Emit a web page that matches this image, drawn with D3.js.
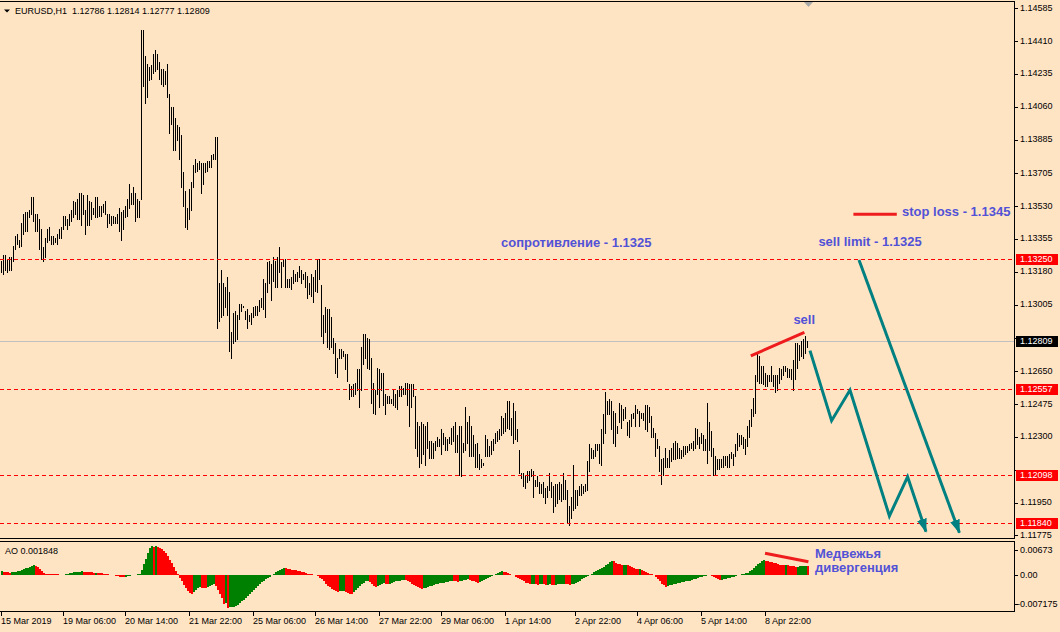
<!DOCTYPE html>
<html><head><meta charset="utf-8">
<script src="https://cdn.jsdelivr.net/npm/d3@7/dist/d3.min.js"></script>
<style>
html,body{margin:0;padding:0;background:#FFE4C4;}
svg{display:block;}
text{font-family:"Liberation Sans",Arial,sans-serif;}
</style></head><body>
<svg id="c" width="1060" height="632"></svg>
<script>
// ---------- data ----------
const highs = [
1.1324,1.1327,1.1327,1.1325,1.1326,1.1326,1.1332,1.1337,1.1338,1.1335,
1.1344,1.1349,1.1350,1.1350,1.1351,1.1358,1.1358,1.1349,1.1349,1.1346,
1.1341,1.1331,1.1336,1.1341,1.1342,1.1337,1.1337,1.1336,1.1338,1.1341,
1.1342,1.1348,1.1348,1.1346,1.1349,1.1351,1.1356,1.1355,1.1357,1.1360,
1.1360,1.1359,1.1351,1.1359,1.1356,1.1355,1.1352,1.1358,1.1358,1.1353,
1.1353,1.1354,1.1356,1.1349,1.1349,1.1348,1.1348,1.1347,1.1349,1.1352,
1.1350,1.1351,1.1353,1.1357,1.1365,1.1360,1.1363,1.1360,1.1357,1.1356,
1.1447,1.1447,1.1433,1.1429,1.1427,1.1428,1.1434,1.1436,1.1434,1.1430,
1.1426,1.1426,1.1425,1.1429,1.1413,1.1406,1.1406,1.1400,1.1396,1.1395,
1.1391,1.1371,1.1361,1.1352,1.1362,1.1366,1.1375,1.1378,1.1376,1.1377,
1.1376,1.1376,1.1376,1.1377,1.1377,1.1380,1.1381,1.1390,1.1390,1.1312,
1.1319,1.1312,1.1310,1.1315,1.1307,1.1286,1.1296,1.1297,1.1295,1.1301,
1.1301,1.1300,1.1297,1.1298,1.1295,1.1296,1.1299,1.1300,1.1300,1.1303,
1.1304,1.1314,1.1312,1.1323,1.1324,1.1322,1.1326,1.1324,1.1326,1.1331,
1.1323,1.1325,1.1325,1.1314,1.1314,1.1315,1.1319,1.1317,1.1318,1.1321,
1.1319,1.1317,1.1318,1.1316,1.1312,1.1317,1.1315,1.1319,1.1325,1.1325,
1.1311,1.1295,1.1299,1.1298,1.1298,1.1294,1.1283,1.1280,1.1272,1.1277,
1.1277,1.1276,1.1274,1.1274,1.1258,1.1257,1.1258,1.1259,1.1266,1.1266,
1.1278,1.1285,1.1285,1.1283,1.1282,1.1272,1.1259,1.1255,1.1267,1.1266,
1.1264,1.1264,1.1253,1.1252,1.1252,1.1250,1.1255,1.1253,1.1255,1.1257,
1.1257,1.1256,1.1259,1.1259,1.1258,1.1258,1.1258,1.1252,1.1238,1.1236,
1.1238,1.1237,1.1236,1.1238,1.1228,1.1228,1.1227,1.1228,1.1230,1.1229,
1.1234,1.1232,1.1230,1.1229,1.1230,1.1235,1.1236,1.1238,1.1231,1.1236,
1.1236,1.1227,1.1246,1.1238,1.1241,1.1236,1.1231,1.1226,1.1227,1.1221,
1.1218,1.1216,1.1231,1.1229,1.1225,1.1228,1.1229,1.1232,1.1233,1.1234,
1.1241,1.1240,1.1243,1.1249,1.1249,1.1240,1.1248,1.1244,1.1234,1.1223,
1.1211,1.1211,1.1210,1.1212,1.1212,1.1213,1.1212,1.1207,1.1209,1.1206,
1.1205,1.1206,1.1203,1.1204,1.1211,1.1206,1.1204,1.1205,1.1205,1.1206,
1.1205,1.1211,1.1207,1.1202,1.1193,1.1198,1.1215,1.1202,1.1202,1.1204,
1.1205,1.1204,1.1205,1.1217,1.1226,1.1224,1.1223,1.1226,1.1226,1.1226,
1.1234,1.1242,1.1254,1.1249,1.1250,1.1249,1.1244,1.1243,1.1236,1.1248,
1.1247,1.1245,1.1246,1.1238,1.1239,1.1242,1.1243,1.1247,1.1245,1.1244,
1.1243,1.1243,1.1247,1.1247,1.1246,1.1241,1.1235,1.1232,1.1229,1.1225,
1.1218,1.1219,1.1224,1.1219,1.1223,1.1224,1.1227,1.1228,1.1227,1.1224,
1.1223,1.1225,1.1225,1.1225,1.1226,1.1227,1.1228,1.1235,1.1234,1.1230,
1.1232,1.1231,1.1229,1.1248,1.1238,1.1233,1.1224,1.1220,1.1218,1.1218,
1.1218,1.1220,1.1220,1.1220,1.1221,1.1222,1.1221,1.1226,1.1232,1.1231,
1.1231,1.1230,1.1229,1.1236,1.1239,1.1245,1.1251,1.1263,1.1274,1.1273,
1.1268,1.1268,1.1264,1.1263,1.1263,1.1268,1.1263,1.1263,1.1263,1.1267,
1.1266,1.1268,1.1268,1.1267,1.1266,1.1266,1.1271,1.1280,1.1280,1.1279,
1.1281,1.1282,1.1284,1.12814];
const lows = [
1.1318,1.1317,1.1319,1.1318,1.1319,1.1319,1.1324,1.1330,1.1333,1.1331,
1.1332,1.1338,1.1340,1.1340,1.1347,1.1349,1.1345,1.1340,1.1340,1.1330,
1.1325,1.1324,1.1326,1.1334,1.1335,1.1333,1.1333,1.1334,1.1333,1.1336,
1.1336,1.1341,1.1343,1.1341,1.1343,1.1345,1.1347,1.1349,1.1346,1.1346,
1.1343,1.1349,1.1338,1.1343,1.1343,1.1346,1.1349,1.1347,1.1347,1.1348,
1.1348,1.1350,1.1349,1.1342,1.1344,1.1343,1.1344,1.1344,1.1344,1.1340,
1.1335,1.1341,1.1347,1.1348,1.1352,1.1354,1.1354,1.1345,1.1347,1.1347,
1.1357,1.1417,1.1408,1.1411,1.1420,1.1421,1.1424,1.1425,1.1426,1.1421,
1.1418,1.1417,1.1418,1.1411,1.1392,1.1397,1.1383,1.1383,1.1388,1.1378,
1.1363,1.1353,1.1342,1.1341,1.1346,1.1351,1.1363,1.1371,1.1372,1.1373,
1.1360,1.1365,1.1371,1.1372,1.1374,1.1374,1.1378,1.1378,1.1288,1.1292,
1.1294,1.1295,1.1299,1.1295,1.1276,1.1272,1.1280,1.1281,1.1282,1.1293,
1.1297,1.1299,1.1293,1.1288,1.1292,1.1290,1.1294,1.1295,1.1295,1.1297,
1.1299,1.1298,1.1294,1.1307,1.1312,1.1303,1.1313,1.1310,1.1310,1.1318,
1.1310,1.1321,1.1310,1.1310,1.1310,1.1309,1.1312,1.1313,1.1313,1.1315,
1.1312,1.1314,1.1310,1.1304,1.1306,1.1305,1.1302,1.1308,1.1307,1.1314,
1.1284,1.1280,1.1286,1.1278,1.1277,1.1278,1.1275,1.1264,1.1262,1.1272,
1.1272,1.1273,1.1266,1.1260,1.1250,1.1252,1.1252,1.1253,1.1255,1.1246,
1.1255,1.1269,1.1272,1.1267,1.1266,1.1248,1.1243,1.1242,1.1253,1.1246,
1.1255,1.1247,1.1242,1.1248,1.1248,1.1248,1.1247,1.1246,1.1245,1.1252,
1.1252,1.1253,1.1253,1.1247,1.1236,1.1246,1.1252,1.1224,1.1220,1.1214,
1.1216,1.1221,1.1215,1.1224,1.1219,1.1219,1.1219,1.1223,1.1225,1.1225,
1.1221,1.1226,1.1223,1.1223,1.1227,1.1226,1.1228,1.1222,1.1222,1.1210,
1.1209,1.1222,1.1223,1.1227,1.1220,1.1220,1.1220,1.1214,1.1214,1.1213,
1.1214,1.1215,1.1220,1.1220,1.1220,1.1221,1.1223,1.1227,1.1228,1.1229,
1.1231,1.1232,1.1233,1.1235,1.1234,1.1231,1.1227,1.1229,1.1228,1.1211,
1.1208,1.1204,1.1203,1.1206,1.1207,1.1209,1.1198,1.1204,1.1204,1.1200,
1.1200,1.1198,1.1195,1.1198,1.1202,1.1198,1.1190,1.1193,1.1195,1.1197,
1.1196,1.1197,1.1197,1.1184,1.1183,1.1187,1.1191,1.1192,1.1194,1.1199,
1.1199,1.1200,1.1201,1.1202,1.1212,1.1219,1.1219,1.1220,1.1223,1.1216,
1.1215,1.1227,1.1232,1.1242,1.1242,1.1234,1.1227,1.1225,1.1232,1.1238,
1.1235,1.1239,1.1240,1.1231,1.1230,1.1236,1.1240,1.1236,1.1243,1.1236,
1.1240,1.1239,1.1234,1.1233,1.1238,1.1230,1.1230,1.1220,1.1224,1.1212,
1.1205,1.1210,1.1214,1.1214,1.1214,1.1217,1.1218,1.1218,1.1219,1.1219,
1.1219,1.1220,1.1221,1.1222,1.1223,1.1224,1.1223,1.1224,1.1226,1.1224,
1.1227,1.1223,1.1223,1.1216,1.1223,1.1220,1.1210,1.1210,1.1213,1.1213,
1.1214,1.1214,1.1215,1.1214,1.1214,1.1219,1.1215,1.1220,1.1223,1.1225,
1.1226,1.1224,1.1221,1.1225,1.1230,1.1236,1.1241,1.1243,1.1260,1.1259,
1.1259,1.1258,1.1257,1.1257,1.1260,1.1260,1.1257,1.1254,1.1255,1.1259,
1.1261,1.1263,1.1265,1.1262,1.1262,1.1261,1.1255,1.1261,1.1267,1.1271,
1.1273,1.1272,1.1275,1.12777];
const aoValues = [
0.00081,0.0007,0.00063,0.00059,0.00058,0.00061,0.00067,0.00074,0.00085,0.00096,
0.00111,0.00126,0.00141,0.00155,0.0017,0.00185,0.002,0.00189,0.00163,0.00126,
0.00089,0.00052,0.0003,0.00026,0.00024,0.00022,0.00021,0.0002,0.00019,0.00018,
0.00017,0.00016,0.00022,0.00033,0.00044,0.00052,0.00059,0.00067,0.0007,0.00074,
0.0008,0.00074,0.0007,0.00067,0.00063,0.00059,0.00056,0.00058,0.00052,0.00046,
0.00041,0.00036,0.0003,0.00022,0.00015,0.00007,0,-0.00008,-0.00016,-0.00025,
-0.00033,-0.00037,-0.00029,-0.00016,-0.00004,0.00015,0.00011,0.00007,0.00022,0.00033,
0.00111,0.00222,0.00333,0.00444,0.00562,0.00585,0.00574,0.00588,0.00581,0.00562,
0.00533,0.00496,0.00444,0.00385,0.00318,0.00244,0.0017,0.00096,0.00022,-0.00049,
-0.00123,-0.00197,-0.00262,-0.0032,-0.00361,-0.00377,-0.00328,-0.00287,-0.00254,-0.00242,
-0.00246,-0.0025,-0.00254,-0.0023,-0.00205,-0.00185,-0.00174,-0.00213,-0.00295,-0.00377,
-0.00459,-0.00574,-0.00566,-0.00648,-0.00644,-0.0064,-0.00631,-0.00615,-0.0059,-0.00558,
-0.00525,-0.00492,-0.00459,-0.00418,-0.00377,-0.00336,-0.00295,-0.00254,-0.00213,-0.00172,
-0.00139,-0.00107,-0.00078,-0.00049,-0.00025,0,0.0003,0.00059,0.00089,0.00111,
0.00133,0.00148,0.00141,0.00133,0.00126,0.00118,0.00111,0.00104,0.00093,0.00081,
0.0007,0.00059,0.00048,0.00037,0.0003,0.00022,0.00015,0.00007,-0.00016,-0.00049,
-0.00082,-0.00123,-0.00164,-0.00205,-0.00238,-0.00271,-0.00295,-0.00316,-0.00328,-0.00324,
-0.00316,-0.00308,-0.00328,-0.00353,-0.00369,-0.00377,-0.00344,-0.00303,-0.00262,-0.00221,
-0.0018,-0.00148,-0.00123,-0.00107,-0.00139,-0.00172,-0.00205,-0.00226,-0.00205,-0.00185,
-0.00172,-0.00161,-0.00168,-0.00176,-0.00164,-0.00148,-0.00135,-0.00123,-0.00115,-0.00107,
-0.001,-0.00094,-0.00097,-0.00115,-0.00139,-0.00164,-0.00189,-0.00213,-0.00238,-0.00258,
-0.00275,-0.00262,-0.00246,-0.0023,-0.00217,-0.00205,-0.00193,-0.00182,-0.00172,-0.00162,
-0.00153,-0.00144,-0.00135,-0.00127,-0.00119,-0.00111,-0.00115,-0.00123,-0.00127,-0.00119,
-0.00107,-0.00097,-0.00086,-0.00078,-0.0009,-0.00107,-0.00123,-0.00135,-0.00144,-0.00131,
-0.00115,-0.00094,-0.00074,-0.00053,-0.00033,-0.00012,0.00007,0.00026,0.00044,0.00063,
0.00081,0.0007,0.00059,0.00048,0.00033,0.00015,0,-0.00025,-0.00049,-0.00074,
-0.00098,-0.00123,-0.00144,-0.0016,-0.00172,-0.00168,-0.00164,-0.00176,-0.00185,-0.00179,
-0.00174,-0.00182,-0.0019,-0.00185,-0.0018,-0.00187,-0.00193,-0.00187,-0.00182,-0.00177,
-0.00172,-0.00168,-0.00172,-0.00179,-0.00185,-0.00176,-0.00164,-0.00148,-0.00131,-0.00107,
-0.00082,-0.00057,-0.00033,-0.00008,0.00015,0.00037,0.00059,0.00081,0.00104,0.00126,
0.00148,0.00178,0.00207,0.00237,0.00266,0.00296,0.00281,0.00259,0.00237,0.00222,
0.00211,0.00215,0.00218,0.002,0.00181,0.00163,0.00148,0.00137,0.00127,0.00132,
0.00111,0.00093,0.00074,0.00056,0.00037,0.00019,0,-0.00041,-0.00082,-0.00123,
-0.00164,-0.00201,-0.00228,-0.00215,-0.00203,-0.00193,-0.00182,-0.00172,-0.00162,-0.00153,
-0.00143,-0.00133,-0.00123,-0.00113,-0.00103,-0.0009,-0.00078,-0.00066,-0.00053,-0.00041,
-0.00029,-0.00016,-0.00004,0.00007,0.00004,-0.00016,-0.00037,-0.00057,-0.00078,-0.00093,
-0.00086,-0.00078,-0.0007,-0.00059,-0.00049,-0.00037,-0.00025,-0.00012,0,0.00011,
0.00022,0.00033,0.00044,0.00053,0.00081,0.00111,0.00148,0.00185,0.00222,0.00259,
0.00289,0.00309,0.00296,0.00285,0.00274,0.00263,0.00252,0.00241,0.00229,0.00218,
0.00211,0.00201,0.00207,0.002,0.00192,0.00185,0.0018,0.00175,0.00178,0.0018,
0.00182,0.00184,0.00186,0.001848];

const priceTicks = [1.14585,1.14410,1.14235,1.14060,1.13885,1.13705,1.13530,1.13355,1.13180,1.13005,1.12830,1.12650,1.12475,1.12300,1.12125,1.11950,1.11775];
const levelPrices = [1.13250,1.12557,1.12098,1.11840];
const currentPrice = 1.12809;
const timeLabels = ["15 Mar 2019","19 Mar 06:00","20 Mar 14:00","21 Mar 22:00","25 Mar 06:00","26 Mar 14:00","27 Mar 22:00","29 Mar 06:00","1 Apr 14:00","2 Apr 22:00","4 Apr 06:00","5 Apr 14:00","8 Apr 22:00"];
const timeTickBars = [0,31,62,94,126,157,189,220,252,287,318,350,382];
const aoTicks = [0.00673,0,-0.007175];
const aoTickLabels = ["0.00673","0.00","-0.007175"];
const headerText = "EURUSD,H1  1.12786 1.12814 1.12777 1.12809";
const aoHeader = "AO 0.001848";

// annotations (bar index, price / AO value)
const zigzag = [[404.5,1.12760],[415.3,1.12387],[424.5,1.12550],[444.2,1.11879],[453.3,1.12088],[462.5,1.11795]];
const longArrow = [[429,1.13243],[479.2,1.11790]];
const sellLine = [[374.9,1.12732],[401.7,1.12858]];
const stopLine = [[426.2,1.13487],[447.9,1.13487]];
const divLine = [[382,0.00445],[403.7,0.00276]];
const priceNotes = [
  {text:"сопротивление - 1.1325", bar:250, price:1.13311},
  {text:"sell limit - 1.1325", bar:408.7, price:1.13319},
  {text:"stop loss - 1.1345", bar:450.5, price:1.13478},
  {text:"sell", bar:396.2, price:1.12902}
];
const aoNotes = [
  {text:"Медвежья", bar:407, value:0.00355},
  {text:"дивергенция", bar:407, value:0.00060}
];

// ---------- drawing ----------
const svg = d3.select("#c");
const axisX = 1014.5;
const mainTop = 1.5, mainBottom = 538.5, aoTop = 541.5, aoBottom = 611.5;
const x = d3.scaleLinear().domain([0, 403]).range([1, 807]);
const y = d3.scaleLinear().domain([1.11840, 1.13250]).range([523.3, 258.7]);
const aoY = d3.scaleLinear().domain([-0.007175, 0.00673]).range([611, 542]);
const fmt = d3.format(".5f");
const noteColor = "#5252D6";
const teal = "#008080";
const lineRed = "#EE1C1C";

svg.append("rect").attr("width",1060).attr("height",632).attr("fill","#FFE4C4");

const defs = svg.append("defs");
defs.append("clipPath").attr("id","mainClip").append("rect").attr("x",0).attr("y",mainTop).attr("width",axisX).attr("height",mainBottom-mainTop);
defs.append("marker").attr("id","arr").attr("viewBox","0 0 14 10").attr("refX",13).attr("refY",5)
  .attr("markerWidth",14).attr("markerHeight",10).attr("markerUnits","userSpaceOnUse").attr("orient","auto")
  .append("path").attr("d","M0,0 L14,5 L0,10 z").attr("fill",teal);

const main = svg.append("g").attr("clip-path","url(#mainClip)");

// current price line (below bars)
main.append("line").attr("x1",0).attr("x2",axisX).attr("y1",Math.round(y(currentPrice))+0.5).attr("y2",Math.round(y(currentPrice))+0.5)
  .style("stroke","#C0C0C0").attr("stroke-width",1);

// price bars
main.append("g").selectAll("line").data(highs).join("line")
  .attr("x1",(d,i)=>Math.round(x(i))+0.5).attr("x2",(d,i)=>Math.round(x(i))+0.5)
  .attr("y1",d=>Math.round(y(d))).attr("y2",(d,i)=>Math.max(Math.round(y(lows[i]))+1, Math.round(y(d))+1))
  .style("stroke","#000").attr("stroke-width",1).attr("shape-rendering","crispEdges");

// level lines
main.append("g").selectAll("line").data(levelPrices).join("line")
  .attr("x1",0).attr("x2",axisX).attr("y1",d=>Math.round(y(d))+0.5).attr("y2",d=>Math.round(y(d))+0.5)
  .style("stroke","#FF0000").attr("stroke-width",1).style("stroke-dasharray","4,3").attr("shape-rendering","crispEdges");

// annotation lines
const lineGen = d3.line().x(d=>x(d[0])).y(d=>y(d[1]));
main.append("path").attr("d",lineGen(sellLine)).style("stroke",lineRed).attr("stroke-width",3).attr("fill","none");
main.append("path").attr("d",lineGen(stopLine)).style("stroke",lineRed).attr("stroke-width",3).attr("fill","none");
main.append("path").attr("d",lineGen(zigzag)).style("stroke",teal).attr("stroke-width",3).attr("fill","none")
  .attr("stroke-linejoin","miter").attr("marker-end","url(#arr)");
main.append("path").attr("d",lineGen(longArrow)).style("stroke",teal).attr("stroke-width",3).attr("fill","none")
  .attr("marker-end","url(#arr)");

main.append("g").selectAll("text").data(priceNotes).join("text")
  .attr("x",d=>x(d.bar)).attr("y",d=>y(d.price)).text(d=>d.text)
  .attr("fill",noteColor).attr("font-weight","bold").attr("font-size","13px");

// AO histogram
const aoG = svg.append("g");
aoG.selectAll("rect").data(aoValues).join("rect")
  .attr("x",(d,i)=>Math.round(x(i))).attr("width",2)
  .attr("y",d=>Math.min(aoY(d),aoY(0))).attr("height",d=>Math.abs(aoY(d)-aoY(0)))
  .attr("fill",(d,i)=> i===0 ? "#008000" : (d > aoValues[i-1] ? "#008000" : "#FF0000"))
  .attr("shape-rendering","crispEdges");

const aoLine = d3.line().x(d=>x(d[0])).y(d=>aoY(d[1]));
aoG.append("path").attr("d",aoLine(divLine)).style("stroke",lineRed).attr("stroke-width",3).attr("fill","none");
aoG.selectAll("text.n").data(aoNotes).join("text").attr("class","n")
  .attr("x",d=>x(d.bar)).attr("y",d=>aoY(d.value)).text(d=>d.text)
  .attr("fill",noteColor).attr("font-weight","bold").attr("font-size","13px");

// frames
const fr = svg.append("g").style("stroke","#000").attr("stroke-width",1).attr("shape-rendering","crispEdges");
fr.append("line").attr("x1",0).attr("x2",axisX).attr("y1",mainTop).attr("y2",mainTop);
fr.append("line").attr("x1",0).attr("x2",axisX).attr("y1",mainBottom).attr("y2",mainBottom);
fr.append("line").attr("x1",axisX).attr("x2",axisX).attr("y1",mainTop).attr("y2",mainBottom);
fr.append("line").attr("x1",0).attr("x2",axisX).attr("y1",aoTop).attr("y2",aoTop);
fr.append("line").attr("x1",0).attr("x2",axisX).attr("y1",aoBottom).attr("y2",aoBottom);
fr.append("line").attr("x1",axisX).attr("x2",axisX).attr("y1",aoTop).attr("y2",aoBottom);

// price axis (labels hidden behind a price box are left out, tick marks kept)
const boxPrices = levelPrices.concat([currentPrice]);
const freeTicks = priceTicks.filter(t => boxPrices.every(p => Math.abs(y(t)-y(p)) > 9));
const pa = svg.append("g");
pa.selectAll("line").data(priceTicks).join("line")
  .attr("x1",axisX).attr("x2",axisX+3).attr("y1",d=>Math.round(y(d))+0.5).attr("y2",d=>Math.round(y(d))+0.5)
  .style("stroke","#000").attr("shape-rendering","crispEdges");
pa.selectAll("text").data(freeTicks).join("text")
  .attr("x",1020).attr("y",d=>y(d)+2.5).text(d=>fmt(d)).attr("font-size","9px").attr("fill","#000");

// level price boxes
const boxes = svg.append("g");
const boxData = levelPrices.map(p=>({p, fill:"#FF0000"})).concat([{p:currentPrice, fill:"#000"}]);
boxes.selectAll("rect").data(boxData).join("rect")
  .attr("x",1016).attr("width",42).attr("y",d=>Math.round(y(d.p))-5).attr("height",11).attr("fill",d=>d.fill);
boxes.selectAll("text").data(boxData).join("text")
  .attr("x",1020).attr("y",d=>y(d.p)+3).text(d=>fmt(d.p)).attr("font-size","9px").attr("fill","#fff");

// AO axis
const aa = svg.append("g");
const aoLabelY = [aoY(aoTicks[0])+8, aoY(aoTicks[1]), aoY(aoTicks[2])-7];
aa.selectAll("line").data(aoTicks).join("line")
  .attr("x1",axisX).attr("x2",axisX+3).attr("y1",(d,i)=>Math.round(aoLabelY[i])+0.5).attr("y2",(d,i)=>Math.round(aoLabelY[i])+0.5)
  .style("stroke","#000").attr("shape-rendering","crispEdges");
aa.selectAll("text").data(aoTickLabels).join("text")
  .attr("x",(d,i)=> d.startsWith("-") ? 1017 : 1020).attr("y",(d,i)=>aoLabelY[i]+3).text(d=>d)
  .attr("font-size","9px").attr("fill","#000");

// time axis
const ta = svg.append("g");
ta.selectAll("line").data(timeTickBars).join("line")
  .attr("x1",d=>Math.round(x(d))+0.5).attr("x2",d=>Math.round(x(d))+0.5).attr("y1",aoBottom).attr("y2",aoBottom+4)
  .style("stroke","#000").attr("shape-rendering","crispEdges");
ta.selectAll("text").data(timeLabels).join("text")
  .attr("x",(d,i)=>x(timeTickBars[i])).attr("y",623.5).text(d=>d).attr("font-size","9px").attr("fill","#000");

// headers
svg.append("path").attr("d","M4,9.5 L10,9.5 L7,12.5 Z").attr("fill","#000");
svg.append("text").attr("x",15).attr("y",14).attr("font-size","9px").attr("fill","#000")
  .style("white-space","pre").text(headerText);
svg.append("text").attr("x",5).attr("y",554).attr("font-size","9px").attr("fill","#000").text(aoHeader);
svg.append("path").attr("d","M804,2 L813,2 L808.5,7 Z").attr("fill","#A8A8A8");
</script>
</body></html>
